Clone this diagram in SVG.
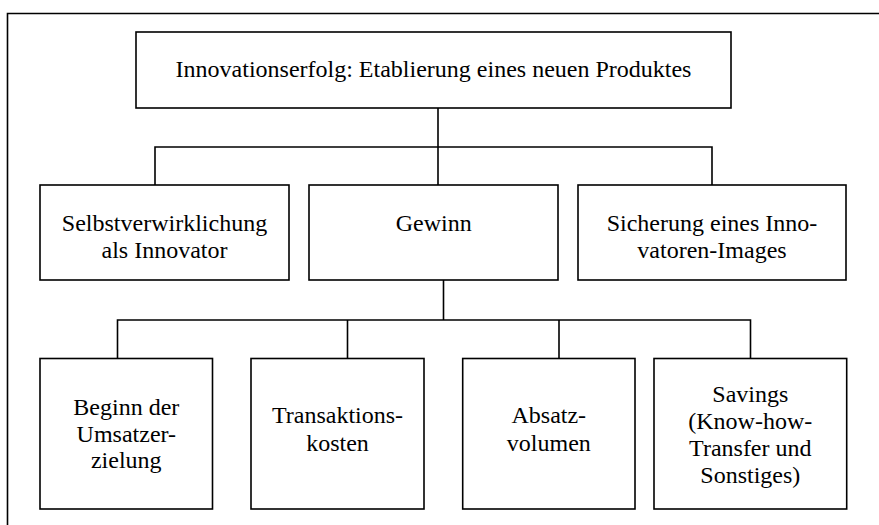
<svg xmlns="http://www.w3.org/2000/svg" width="879" height="525" viewBox="0 0 879 525">
<style>
.box{fill:#fff;stroke:#000;stroke-width:1.6}
.ln{fill:none;stroke:#000;stroke-width:1.6}
text{font-family:"Liberation Serif","Times New Roman",serif;font-size:24px;fill:#000;text-anchor:middle}
</style>
<rect x="0" y="0" width="879" height="525" fill="#fff"/>
<path class="ln" d="M7.5,526 V13.5 H880"/>
<g id="connectors">
<path class="ln" d="M438,108 V147 M155,185 V147 H712 V185 M438,147 V185"/>
<path class="ln" d="M443.5,280 V320 M117.5,358 V320 H750.5 V358 M347.5,320 V358 M559,320 V358"/>
</g>
<g id="n0"><rect class="box" x="136" y="32" width="595" height="76"/><text x="433.5" y="77">Innovationserfolg: Etablierung eines neuen Produktes</text></g>
<g id="n1"><rect class="box" x="40" y="185" width="249" height="95"/><text x="164.5" y="230.5">Selbstverwirklichung</text><text x="164.5" y="258">als Innovator</text></g>
<g id="n2"><rect class="box" x="309" y="185" width="249" height="95"/><text x="433.7" y="231">Gewinn</text></g>
<g id="n3"><rect class="box" x="578" y="185" width="268" height="95"/><text x="712" y="230.5">Sicherung eines Inno-</text><text x="712" y="258">vatoren-Images</text></g>
<g id="n4"><rect class="box" x="40" y="358.5" width="172.5" height="150.5"/><text x="126.3" y="415">Beginn der</text><text x="126.3" y="441.7">Umsatzer-</text><text x="126.3" y="468.3">zielung</text></g>
<g id="n5"><rect class="box" x="251" y="358.5" width="173" height="150.5"/><text x="337.5" y="423.3">Transaktions-</text><text x="337.5" y="450.7">kosten</text></g>
<g id="n6"><rect class="box" x="462.7" y="358.5" width="172.3" height="150.5"/><text x="548.8" y="423.3">Absatz-</text><text x="548.8" y="450.7">volumen</text></g>
<g id="n7"><rect class="box" x="654" y="358.5" width="192.7" height="150.5"/><text x="750.3" y="401.7">Savings</text><text x="750.3" y="428.7">(Know-how-</text><text x="750.3" y="456.3">Transfer und</text><text x="750.3" y="483.3">Sonstiges)</text></g>
</svg>
